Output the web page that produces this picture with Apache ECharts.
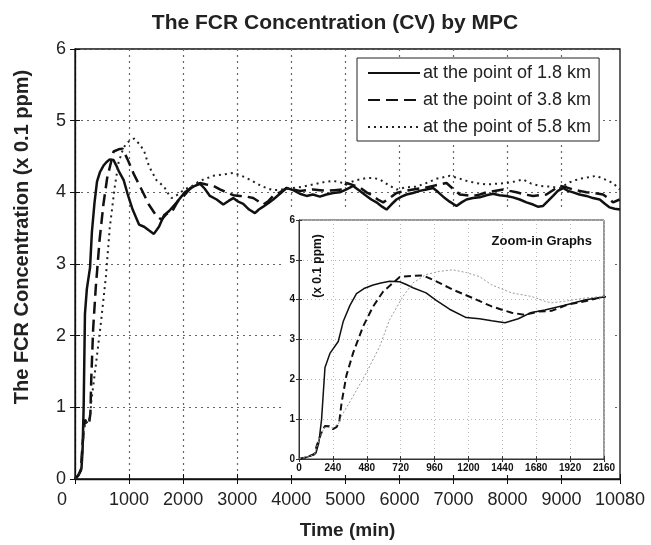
<!DOCTYPE html>
<html>
<head>
<meta charset="utf-8">
<script src="https://cdn.jsdelivr.net/npm/echarts@6/dist/echarts.min.js"></script>
<style>
html,body{margin:0;padding:0;background:#fff;}
#chartDiv{width:651px;height:545px;}
</style>
</head>
<body>
<div id="chartDiv"></div>
<script>
var seriesNames = ['at the point of 1.8 km', 'at the point of 3.8 km', 'at the point of 5.8 km'];
var xTickLabels = [0, 1000, 2000, 3000, 4000, 5000, 6000, 7000, 8000, 9000, 10080];
var yTickLabels = [0, 1, 2, 3, 4, 5, 6];
var insetXTicks = [0, 240, 480, 720, 960, 1200, 1440, 1680, 1920, 2160];

// 1.8 km (solid)
var time18 = [0, 60, 120, 140, 160, 184, 219, 278, 313, 360, 407, 460, 525, 580, 642, 713, 760, 807, 900, 972,
  1066, 1184, 1278, 1365, 1459, 1553, 1647, 1741, 1882, 2031, 2187, 2310, 2400, 2495, 2620, 2742, 2840, 2927, 3020, 3112,
  3220, 3328, 3400, 3481, 3580, 3666, 3790, 3913, 4036, 4160, 4282, 4400, 4529, 4650, 4775, 4898, 5021, 5145, 5270, 5392,
  5480, 5576, 5680, 5761, 5850, 5946, 6040, 6131, 6250, 6378, 6500, 6624, 6720, 6809, 6930, 7055, 7150, 7240, 7360, 7486,
  7610, 7733, 7850, 7979, 8100, 8226, 8350, 8472, 8560, 8657, 8750, 8842, 8930, 9027, 9120, 9212, 9330, 9458, 9580, 9705,
  9800, 9890, 9980, 10080];
var conc18 = [0, 0.05, 0.15, 0.4, 1.0, 2.3, 2.65, 2.95, 3.45, 3.85, 4.15, 4.28, 4.37, 4.42, 4.46, 4.45, 4.38, 4.3, 4.17, 3.98,
  3.76, 3.55, 3.52, 3.47, 3.42, 3.52, 3.68, 3.74, 3.86, 4.0, 4.08, 4.12, 4.05, 3.95, 3.9, 3.83, 3.88, 3.92, 3.87, 3.84,
  3.76, 3.71, 3.76, 3.8, 3.85, 3.9, 3.98, 4.06, 4.03, 3.98, 3.95, 3.97, 3.94, 3.97, 3.99, 4.0, 4.04, 4.09, 4.02, 3.95,
  3.9, 3.86, 3.8, 3.76, 3.83, 3.9, 3.94, 3.97, 3.99, 4.02, 4.04, 4.06, 4.0, 3.94, 3.87, 3.81, 3.86, 3.9, 3.92, 3.93,
  3.96, 3.98, 3.96, 3.95, 3.93, 3.9, 3.86, 3.83, 3.8, 3.81, 3.88, 3.95, 4.02, 4.06, 4.02, 4.0, 3.97, 3.95, 3.92, 3.9,
  3.84, 3.79, 3.77, 3.76];

// 3.8 km (dashed)
var time38 = [0, 60, 110, 125, 160, 184, 215, 240, 265, 285, 301, 336, 384, 454, 525, 595, 666, 713, 807, 878,
  972, 1090, 1231, 1365, 1506, 1600, 1694, 1788, 1906, 2024, 2148, 2310, 2430, 2557, 2680, 2803, 2927, 3050, 3173, 3296,
  3400, 3481, 3580, 3666, 3790, 3913, 4036, 4159, 4282, 4405, 4530, 4652, 4800, 4960, 5022, 5145, 5268, 5392, 5515, 5600,
  5700, 5820, 5946, 6100, 6255, 6440, 6624, 6750, 6871, 6990, 7117, 7240, 7363, 7486, 7610, 7760, 7918, 8040, 8164, 8320,
  8472, 8600, 8718, 8840, 8965, 9090, 9212, 9335, 9458, 9610, 9766, 9860, 9951, 10074];
var conc38 = [0, 0.05, 0.12, 0.33, 0.67, 0.83, 0.82, 0.75, 0.8, 0.92, 1.4, 2.1, 2.67, 3.33, 3.83, 4.2, 4.42, 4.57, 4.6, 4.61,
  4.46, 4.25, 4.04, 3.83, 3.67, 3.62, 3.7, 3.72, 3.88, 3.96, 4.07, 4.13, 4.11, 4.09, 4.04, 4.0, 3.96, 3.95, 3.94, 3.92,
  3.87, 3.83, 3.88, 3.95, 4.0, 4.06, 4.04, 4.02, 4.03, 4.04, 4.03, 4.02, 4.03, 4.04, 4.13, 4.1, 4.07, 4.0, 3.95, 3.9,
  3.86, 3.92, 3.99, 4.02, 4.04, 4.06, 4.09, 4.11, 4.13, 4.05, 3.97, 3.96, 3.95, 3.97, 4.0, 4.02, 4.04, 4.02, 4.0, 3.97,
  3.95, 3.96, 3.97, 4.03, 4.09, 4.07, 4.04, 4.02, 4.0, 3.99, 3.97, 3.92, 3.86, 3.9];

// 5.8 km (dotted)
var time58 = [0, 60, 110, 125, 160, 184, 240, 280, 301, 384, 478, 572, 642, 736, 807, 900, 995, 1090, 1184, 1278,
  1365, 1506, 1647, 1741, 1788, 1882, 2024, 2148, 2310, 2557, 2740, 2927, 3050, 3173, 3300, 3420, 3540, 3666, 3850, 4036,
  4220, 4405, 4590, 4775, 4900, 5021, 5200, 5392, 5520, 5638, 5800, 5946, 6130, 6316, 6500, 6686, 6810, 6932, 7080, 7240,
  7420, 7610, 7800, 7979, 8130, 8288, 8440, 8596, 8780, 8965, 9150, 9335, 9490, 9643, 9800, 9951, 10074];
var conc58 = [0, 0.05, 0.12, 0.3, 0.65, 0.8, 0.78, 0.88, 1.08, 1.58, 2.17, 2.83, 3.5, 4.08, 4.42, 4.63, 4.71, 4.75, 4.68, 4.58,
  4.37, 4.17, 4.08, 3.96, 3.92, 3.96, 4.04, 4.08, 4.16, 4.23, 4.25, 4.27, 4.24, 4.2, 4.15, 4.1, 4.06, 4.03, 4.04, 4.06,
  4.08, 4.11, 4.14, 4.16, 4.14, 4.12, 4.17, 4.2, 4.2, 4.18, 4.1, 4.04, 4.07, 4.08, 4.13, 4.19, 4.21, 4.23, 4.2, 4.16,
  4.13, 4.11, 4.12, 4.13, 4.15, 4.18, 4.12, 4.09, 4.08, 4.06, 4.14, 4.19, 4.21, 4.23, 4.18, 4.13, 4.04];

var fontName = 'Liberation Sans, Arial, sans-serif';

var zip = function(t, v){
  var out = [];
  for(var i=0;i<t.length;i++){
    out.push([t[i], v[i]]);
  }
  return out;
}

// main grid lines: none at 10000
var splitColors = [];
for(var i=0;i<11;i++){
  splitColors.push(i==10 ? 'rgba(0,0,0,0)' : '#666');
}

var chart = echarts.init(document.getElementById('chartDiv'));

var option = {
  backgroundColor: '#fff',
  animation: false,
  textStyle: { fontFamily: fontName },
  legend: {
    data: seriesNames,
    orient: 'vertical',
    left: 357,
    top: 58,
    padding: [6, 8, 5, 10],
    itemGap: 9,
    itemWidth: 52,
    itemHeight: 14,
    borderColor: '#222',
    borderWidth: 1,
    backgroundColor: '#fff',
    itemStyle: { opacity: 0 },
    textStyle: { fontSize: 18, color: '#222', fontFamily: fontName, padding: [0, 0, 0, -2] }
  },
  grid: [
    { left: 75, top: 49, width: 545, height: 431, show: true, borderColor: '#111', borderWidth: 1.3 },
    { left: 299, top: 220, width: 305, height: 239, show: true, borderColor: '#333', borderWidth: 1, z: 5 }
  ],
  xAxis: [
    {
      gridIndex: 0, type: 'value', min: 0, max: 10080, interval: 1000,
      axisLine: { show: true, lineStyle: { color: '#111', width: 1.3 } },
      axisTick: { inside: true, length: 5, customValues: xTickLabels, lineStyle: { color: '#111' } },
      axisLabel: {
        customValues: xTickLabels, fontSize: 18, color: '#222', margin: 12,
        formatter: function(v){ return v == 0 ? '{z|0}' : String(v); },
        rich: { z: { fontSize: 18, color: '#222', padding: [0, 26, 0, 0] } }
      },
      splitLine: { show: true, lineStyle: { type: [2, 4], color: splitColors, width: 1.2 } },
      name: 'Time (min)', nameLocation: 'middle', nameGap: 42,
      nameTextStyle: { fontSize: 19, fontWeight: 'bold', color: '#222' }
    },
    {
      gridIndex: 1, type: 'value', min: 0, max: 2160, interval: 240, z: 6,
      axisLine: { show: true, lineStyle: { color: '#333' } },
      axisTick: { inside: true, length: 3, lineStyle: { color: '#333' } },
      axisLabel: { fontSize: 10, fontWeight: 'bold', color: '#111', margin: 4, formatter: function(v){ return String(v); } },
      splitLine: { show: true, lineStyle: { type: [1, 3], color: '#bbb' } }
    },
    {
      gridIndex: 0, type: 'value', min: 0, max: 10080, position: 'top',
      axisLine: { show: false },
      axisTick: { inside: true, length: 5, customValues: xTickLabels, lineStyle: { color: '#111' } },
      axisLabel: { show: false },
      splitLine: { show: false }
    },
    {
      gridIndex: 1, type: 'value', min: 0, max: 2160, interval: 240, position: 'top', z: 6,
      axisLine: { show: false },
      axisTick: { inside: true, length: 3, lineStyle: { color: '#333' } },
      axisLabel: { show: false },
      splitLine: { show: false }
    }
  ],
  yAxis: [
    {
      gridIndex: 0, type: 'value', min: 0, max: 6, interval: 1,
      axisLine: { show: true, lineStyle: { color: '#111', width: 1.3 } },
      axisTick: { inside: true, length: 5, lineStyle: { color: '#111' } },
      axisLabel: { fontSize: 18, color: '#222', margin: 9 },
      splitLine: { show: true, lineStyle: { type: [2, 4], color: '#666', width: 1.2 } }
    },
    {
      gridIndex: 1, type: 'value', min: 0, max: 6, interval: 1, z: 6,
      axisLine: { show: true, lineStyle: { color: '#333' } },
      axisTick: { inside: true, length: 3, lineStyle: { color: '#333' } },
      axisLabel: { fontSize: 10, fontWeight: 'bold', color: '#111', margin: 4 },
      splitLine: { show: true, lineStyle: { type: [1, 3], color: '#bbb' } }
    },
    {
      gridIndex: 0, type: 'value', min: 0, max: 6, interval: 1, position: 'right',
      axisLine: { show: false },
      axisTick: { inside: true, length: 5, lineStyle: { color: '#111' } },
      axisLabel: { show: false },
      splitLine: { show: false }
    },
    {
      gridIndex: 1, type: 'value', min: 0, max: 6, interval: 1, position: 'right', z: 6,
      axisLine: { show: false },
      axisTick: { inside: true, length: 3, lineStyle: { color: '#333' } },
      axisLabel: { show: false },
      splitLine: { show: false }
    }
  ],
  graphic: [
    { type: 'rect', z: 4, silent: true, shape: { x: 281, y: 211, width: 333, height: 264 }, style: { fill: '#fff' } },
    { type: 'text', z: 10, x: 335, y: 23, style: { text: 'The FCR Concentration (CV) by MPC', fontSize: 21, fontWeight: 'bold', fontFamily: fontName, fill: '#222', align: 'center', verticalAlign: 'middle' } },
    { type: 'text', z: 10, x: 22, y: 237, rotation: Math.PI / 2, style: { text: 'The FCR Concentration (x 0.1 ppm)', fontSize: 20, fontWeight: 'bold', fontFamily: fontName, fill: '#222', align: 'center', verticalAlign: 'middle' } },
    { type: 'text', z: 10, x: 592, y: 241, style: { text: 'Zoom-in Graphs', fontSize: 13, fontWeight: 'bold', fontFamily: fontName, fill: '#111', align: 'right', verticalAlign: 'middle' } },
    { type: 'text', z: 10, x: 318, y: 266, rotation: Math.PI / 2, style: { text: '(x 0.1 ppm)', fontSize: 12, fontWeight: 'bold', fontFamily: fontName, fill: '#111', align: 'center', verticalAlign: 'middle' } }
  ],
  series: [
    { name: seriesNames[0], type: 'line', xAxisIndex: 0, yAxisIndex: 0, symbol: 'none', z: 2,
      lineStyle: { color: '#111', width: 2.5 }, itemStyle: { color: '#111' }, data: zip(time18, conc18) },
    { name: seriesNames[1], type: 'line', xAxisIndex: 0, yAxisIndex: 0, symbol: 'none', z: 2,
      lineStyle: { color: '#111', width: 2.5, type: [12, 6] }, itemStyle: { color: '#111' }, data: zip(time38, conc38) },
    { name: seriesNames[2], type: 'line', xAxisIndex: 0, yAxisIndex: 0, symbol: 'none', z: 2,
      lineStyle: { color: '#222', width: 2, type: [2, 4] }, itemStyle: { color: '#222' }, data: zip(time58, conc58) },
    { name: 'inset 1.8', type: 'line', xAxisIndex: 1, yAxisIndex: 1, symbol: 'none', z: 7, clip: true,
      lineStyle: { color: '#111', width: 1.5 }, data: zip(time18, conc18) },
    { name: 'inset 3.8', type: 'line', xAxisIndex: 1, yAxisIndex: 1, symbol: 'none', z: 7, clip: true,
      lineStyle: { color: '#111', width: 2, type: [7, 4] }, data: zip(time38, conc38) },
    { name: 'inset 5.8', type: 'line', xAxisIndex: 1, yAxisIndex: 1, symbol: 'none', z: 7, clip: true,
      lineStyle: { color: '#999', width: 1, type: [2, 2] }, data: zip(time58, conc58) }
  ]
};

chart.setOption(option);
</script>
</body>
</html>
